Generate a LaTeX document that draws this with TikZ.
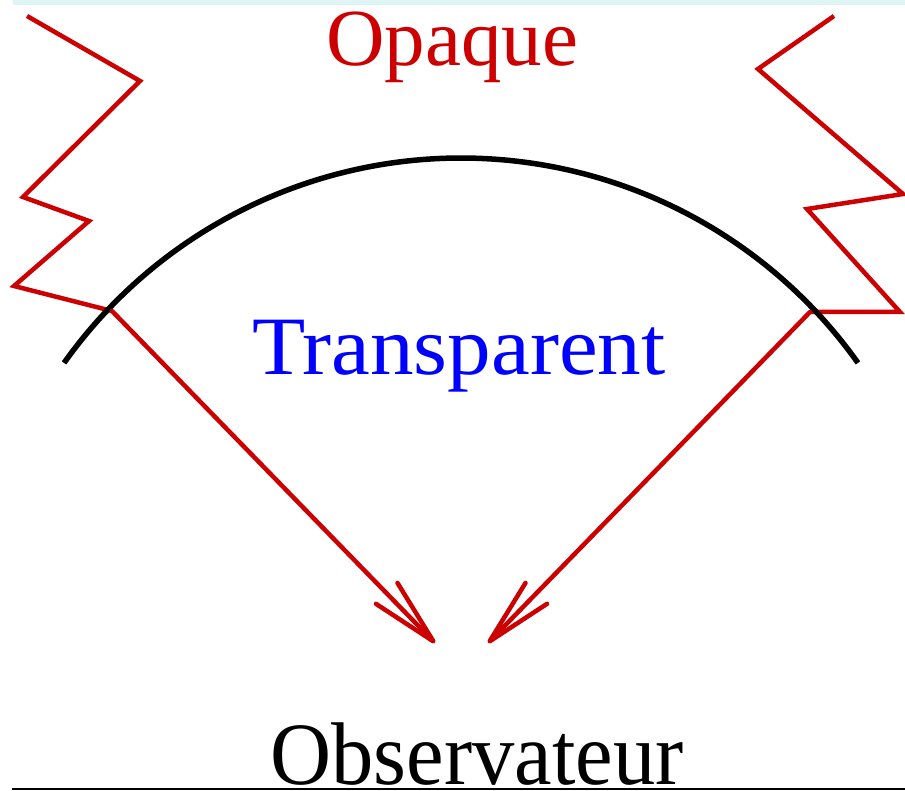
\documentclass[tikz,border=0pt]{standalone}
\usepackage{fontspec}
\setmainfont{Liberation Serif}
\usepackage{graphicx}
\usetikzlibrary{arrows.meta}
\definecolor{opqred}{RGB}{204,0,0}
\definecolor{bandcyan}{RGB}{222,245,246}

\begin{document}
\begin{tikzpicture}[
  x=1pt, y=-1pt,
  lbl/.style={inner sep=0pt, anchor=base},
  ray/.style={opqred, line width=4.5pt, line join=miter},
  rayarrow/.style={ray, line cap=round, -{Straight Barb[length=67pt, width=30pt, round]}},
  horizon/.style={black, line width=5.5pt}
]
\useasboundingbox (0,0) rectangle (905,791);
\fill[bandcyan] (13,0) rectangle (905,5);
% texts
\node[lbl, text=opqred, font=\fontsize{81}{81}\selectfont] (opaque) at (452,66) {Opaque};
\node[lbl, text=blue, font=\fontsize{83}{83}\selectfont] (transp) at (459,375) {\scalebox{1.05}[1]{Transparent}};
\node[lbl, text depth=0pt, font=\fontsize{89}{89}\selectfont] (obs) at (477,784) {\scalebox{0.95}[1]{Observateur}};
% opaque boundary, left and right
\draw[ray] (27,16) -- (140,81) -- (23,197) -- (89,221) -- (14,286) -- (112,311) coordinate (hitL);
\draw[ray] (834,16) -- (758,69) -- (903,194) -- (807,209) -- (900,312) -- (810,312) coordinate (hitR);
% transparent sphere
\coordinate (eye) at (461,645);
\draw[horizon] (eye) ++(215.4:487) arc[start angle=215.4, end angle=324.6, radius=487];
% rays to the observer
\coordinate (tipL) at (435,643);
\coordinate (tipR) at (488,643);
\draw[rayarrow] (hitL) -- (tipL);
\draw[rayarrow] (hitR) -- (tipR);
\draw[line width=2pt] (12,789) -- (905,789);
\end{tikzpicture}
\end{document}
